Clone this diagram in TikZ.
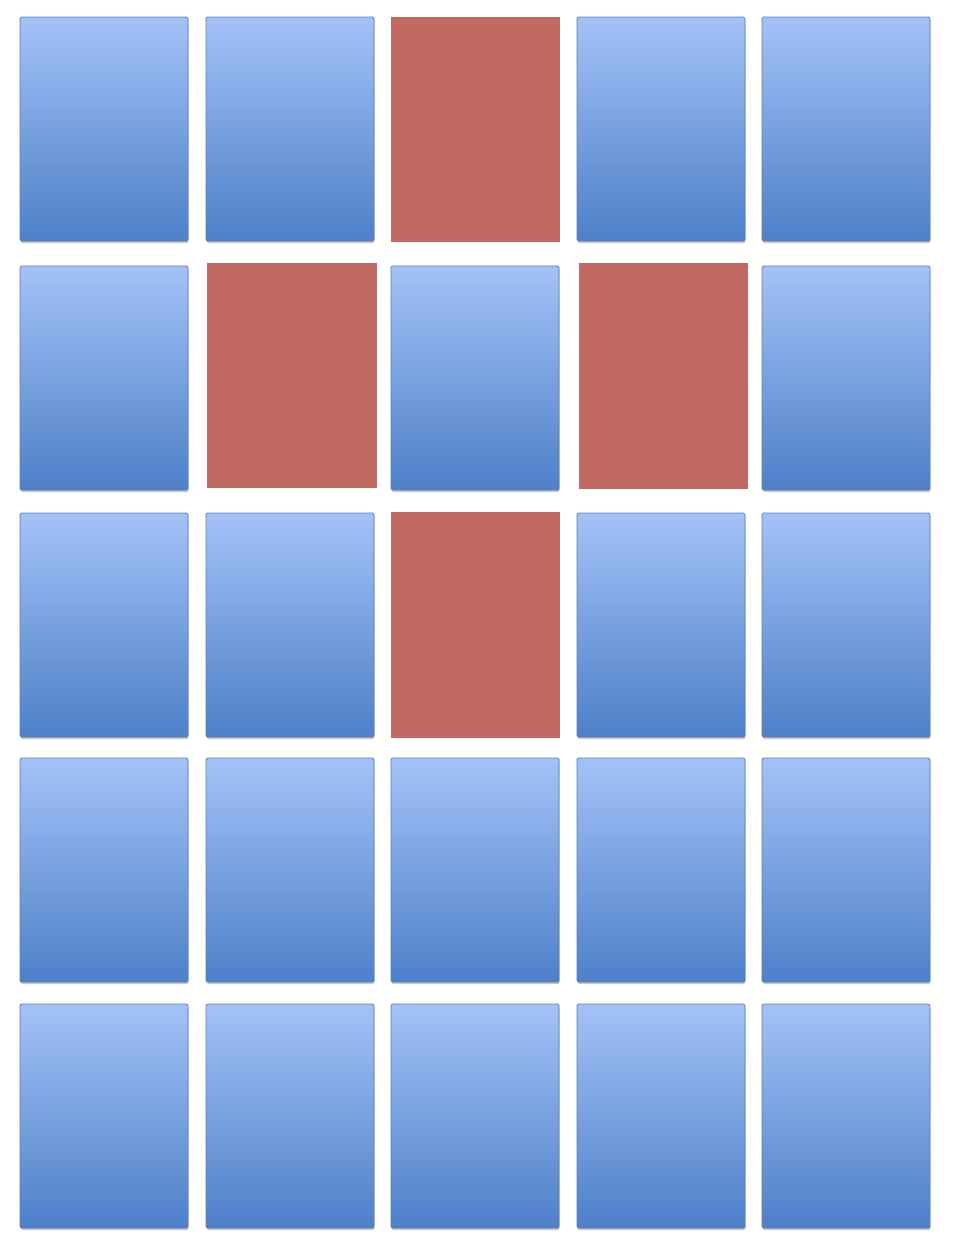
\documentclass[tikz,border=0pt]{standalone}
\usetikzlibrary{shadows}

\definecolor{cellTop}{HTML}{A3C2F7}
\definecolor{cellBot}{HTML}{4E80C8}
\definecolor{cellEdge}{HTML}{5B7DB5}
\definecolor{hitRed}{HTML}{C06A61}

\begin{document}
\begin{tikzpicture}[
  x = 1pt, y = -1pt,
  cell/.style = {rectangle, draw=cellEdge, line width=0.8pt, rounded corners=1.5pt,
                 top color=cellTop, bottom color=cellBot,
                 minimum width=168pt, minimum height=224pt,
                 inner sep=0pt, outer sep=0pt, anchor=north west,
                 drop shadow={shadow xshift=0.6pt, shadow yshift=-2pt,
                              opacity=0.22, fill=black}},
  hit/.style  = {rectangle, fill=hitRed, inner sep=0pt, outer sep=0pt,
                 anchor=north west},
]

\useasboundingbox (0,0) rectangle (954,1248);

%% -- blue cells (5 x 5 grid, red ones left out) --
\foreach \r/\y in {1/17, 2/266, 3/513, 4/758, 5/1004} {
  \foreach \c/\x in {1/20, 2/206, 3/391, 4/577, 5/762} {
    \pgfmathtruncatemacro\ishit{(\r*10+\c==13)||(\r*10+\c==22)||(\r*10+\c==24)||(\r*10+\c==33)}
    \ifnum\ishit=0
      \node[cell] (c\r\c) at (\x,\y) {};
    \fi
  }
}

%% -- red cells --
\node[hit, minimum width=169pt, minimum height=225pt] (c13) at (391,17)  {};
\node[hit, minimum width=170pt, minimum height=225pt] (c22) at (207,263) {};
\node[hit, minimum width=169pt, minimum height=226pt] (c24) at (579,263) {};
\node[hit, minimum width=169pt, minimum height=226pt] (c33) at (391,512) {};

\end{tikzpicture}
\end{document}
